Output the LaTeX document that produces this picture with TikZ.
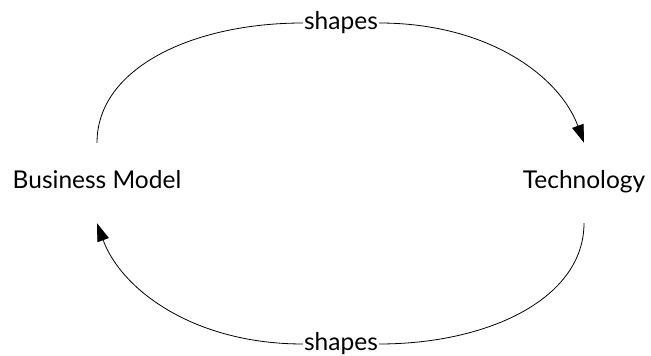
\documentclass[tikz,border=0pt]{standalone}
\usepackage{fontspec}
\setmainfont{Lato}
\usetikzlibrary{arrows.meta}
\begin{document}
\begin{tikzpicture}[x=1pt,y=1pt,
  concept/.style={font=\fontsize{24.5}{28}\selectfont, anchor=base, inner sep=0pt,
    text height=46pt, text depth=34pt},
  lbl/.style={font=\fontsize{24.5}{28}\selectfont, inner xsep=1pt, inner ysep=0pt},
  flow/.style={line width=0.8pt},
  tip/.style={-{Triangle[length=18pt,width=12pt]}}]
\useasboundingbox (0,0) rectangle (651,356);
\node[concept] (bm) at (97,167) {Business Model};
\node[concept] (tech) at (584,167) {Technology};
\node[lbl] (s1) at (341,333) {shapes};
\node[lbl] (s2) at (341,12) {shapes};
\draw[flow] (bm.north) .. controls +(90:75) and +(180:110) .. (s1.west);
\draw[flow,tip] (s1.east) .. controls +(0:110) and +(110:70) .. (tech.north);
\draw[flow] (tech.south) .. controls +(-90:75) and +(0:110) .. (s2.east);
\draw[flow,tip] (s2.west) .. controls +(180:110) and +(-70:70) .. (bm.south);
\end{tikzpicture}
\end{document}
